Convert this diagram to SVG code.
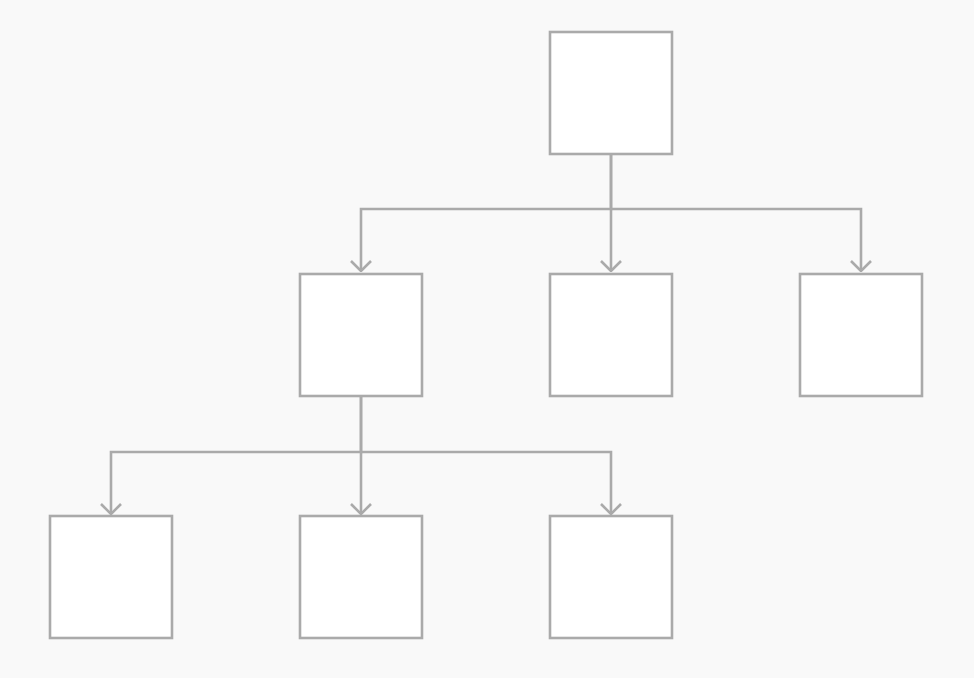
<svg xmlns="http://www.w3.org/2000/svg" width="974" height="678" viewBox="0 0 974 678">
<defs>
<style>
.node{fill:#ffffff;stroke:#aaaaaa;stroke-width:2.6}
.edge{fill:none;stroke:#aaaaaa;stroke-width:2.6}
</style>
<marker id="arr" viewBox="0 0 12 22" refX="11" refY="11" markerWidth="12" markerHeight="22" markerUnits="userSpaceOnUse" orient="auto">
<path d="M1,1 L11,11 L1,21" fill="none" stroke="#aaaaaa" stroke-width="2.6"/>
</marker>
</defs>
<rect width="974" height="678" fill="#f9f9f9"/>
<g id="connectors">
<path class="edge" d="M611,154 V209 H361 V271" marker-end="url(#arr)"/>
<path class="edge" d="M611,154 V271" marker-end="url(#arr)"/>
<path class="edge" d="M611,209 H861 V271" marker-end="url(#arr)"/>
<path class="edge" d="M361,396 V452 H111 V514" marker-end="url(#arr)"/>
<path class="edge" d="M361,396 V514" marker-end="url(#arr)"/>
<path class="edge" d="M361,452 H611 V514" marker-end="url(#arr)"/>
</g>
<g id="root"><rect class="node" x="550" y="32" width="122" height="122"/></g>
<g id="child1"><rect class="node" x="300" y="274" width="122" height="122"/></g>
<g id="child2"><rect class="node" x="550" y="274" width="122" height="122"/></g>
<g id="child3"><rect class="node" x="800" y="274" width="122" height="122"/></g>
<g id="grand1"><rect class="node" x="50" y="516" width="122" height="122"/></g>
<g id="grand2"><rect class="node" x="300" y="516" width="122" height="122"/></g>
<g id="grand3"><rect class="node" x="550" y="516" width="122" height="122"/></g>
</svg>
